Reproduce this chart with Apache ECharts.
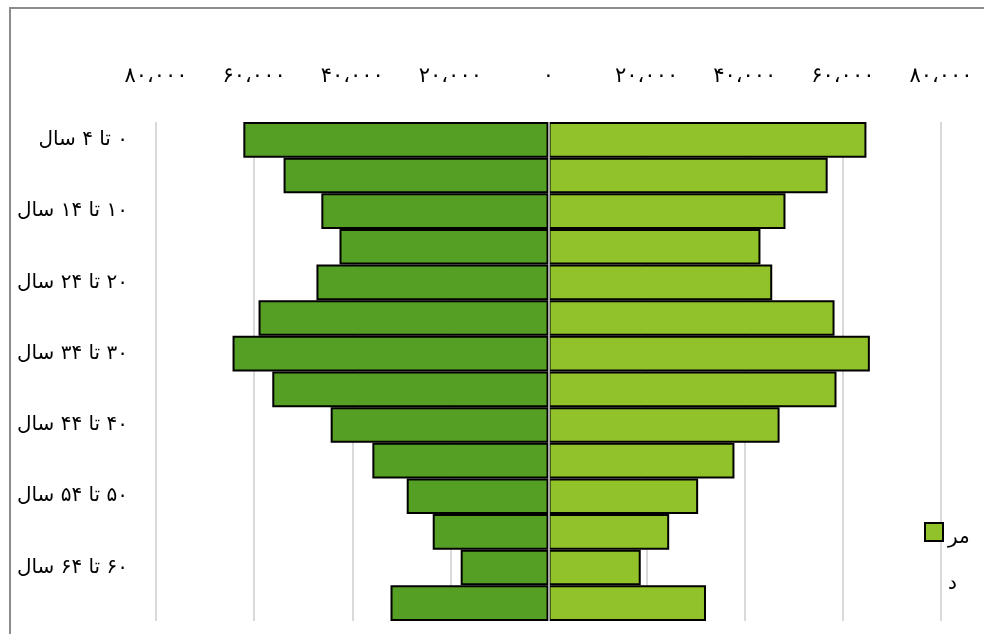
<!DOCTYPE html>
<html>
<head>
<meta charset="utf-8">
<script src="https://cdn.jsdelivr.net/npm/echarts@6/dist/echarts.min.js"></script>
<style>
  html, body { margin: 0; padding: 0; background: #fff; }
  #main { width: 984px; height: 634px; }
</style>
</head>
<body>
<div id="main"></div>
<script>
// گروه های سنی
var ageGroups = ['۰ تا ۴ سال', '۵ تا ۹ سال', '۱۰ تا ۱۴ سال', '۱۵ تا ۱۹ سال', '۲۰ تا ۲۴ سال',
    '۲۵ تا ۲۹ سال', '۳۰ تا ۳۴ سال', '۳۵ تا ۳۹ سال', '۴۰ تا ۴۴ سال', '۴۵ تا ۴۹ سال',
    '۵۰ تا ۵۴ سال', '۵۵ تا ۵۹ سال', '۶۰ تا ۶۴ سال', '۶۵ سال و بیشتر'];
// زن (سمت چپ)
var female = [62200, 54000, 46300, 42600, 47300, 59100, 64400, 56300, 44400, 35900, 28900, 23600, 17900, 32200];
// مرد (سمت راست)
var male = [64800, 56900, 48300, 43200, 45600, 58300, 65500, 58700, 47100, 37900, 30500, 24600, 18800, 32100];
var faDigits = ['۰', '۱', '۲', '۳', '۴', '۵', '۶', '۷', '۸', '۹'];

// عدد به فارسی با جداکننده هزارگان
function toFa(v) {
    var s = String(Math.abs(v)).replace(/\B(?=(\d{3})+(?!\d))/g, '،');
    return s.replace(/\d/g, function (d) { return faDigits[+d]; });
}

var myChart = echarts.init(document.getElementById('main'));
var font = 'DejaVu Sans';
var option = {
    backgroundColor: '#fff',
    animation: false,
    textStyle: { fontFamily: font },
    graphic: [{
        type: 'rect',
        shape: { x: 10, y: 8, width: 1000, height: 700 },
        style: { fill: 'none', stroke: '#8c8c8c', lineWidth: 2 },
        silent: true
    }],
    legend: {
        data: ['مرد'],
        left: 919,
        top: 452,
        orient: 'vertical',
        icon: 'rect',
        itemWidth: 18,
        itemHeight: 18,
        // متن راهنما در کادر باریک دو خط می شود
        formatter: function (name) {
            return '{pad| }\n{t|' + name.slice(0, 2) + '}\n{t|' + name.slice(2) + '}';
        },
        textStyle: {
            fontFamily: font,
            fontSize: 20,
            color: '#000',
            rich: {
                pad: { height: 58, lineHeight: 58, fontSize: 10 },
                t: { fontFamily: font, fontSize: 20, color: '#000', lineHeight: 46, height: 46 }
            }
        }
    },
    grid: { left: 156, right: 43, top: 122, bottom: 13 },
    xAxis: {
        type: 'value',
        position: 'top',
        min: -80000,
        max: 80000,
        interval: 20000,
        axisLine: { show: false },
        axisTick: { show: false },
        axisLabel: {
            margin: 35,
            fontSize: 21,
            color: '#000',
            fontFamily: font,
            formatter: function (v) { return toFa(v); }
        },
        splitLine: { lineStyle: { color: '#d9d9d9', width: 2 } }
    },
    yAxis: {
        type: 'category',
        inverse: true,
        data: ageGroups,
        axisLine: { show: false, onZero: false },
        axisTick: { show: false },
        axisLabel: {
            interval: 1,
            margin: 28,
            fontSize: 20,
            color: '#000',
            fontFamily: font,
            // راست به چپ
            formatter: function (v) { return '\u200F' + v; }
        }
    },
    series: [
        {
            name: 'زن',
            type: 'bar',
            stack: 'pop',
            barCategoryGap: 0,
            data: female.map(function (v) { return -v; }),
            itemStyle: { color: '#55a024', borderColor: '#000', borderWidth: 2 },
            markLine: {
                silent: true,
                symbol: 'none',
                label: { show: false },
                lineStyle: { color: '#a6a6a6', width: 2, type: 'solid' },
                data: [{ xAxis: 0 }]
            }
        },
        {
            name: 'مرد',
            type: 'bar',
            stack: 'pop',
            barCategoryGap: 0,
            data: male,
            itemStyle: { color: '#92c22a', borderColor: '#000', borderWidth: 2 }
        }
    ]
};
myChart.setOption(option);
</script>
</body>
</html>
